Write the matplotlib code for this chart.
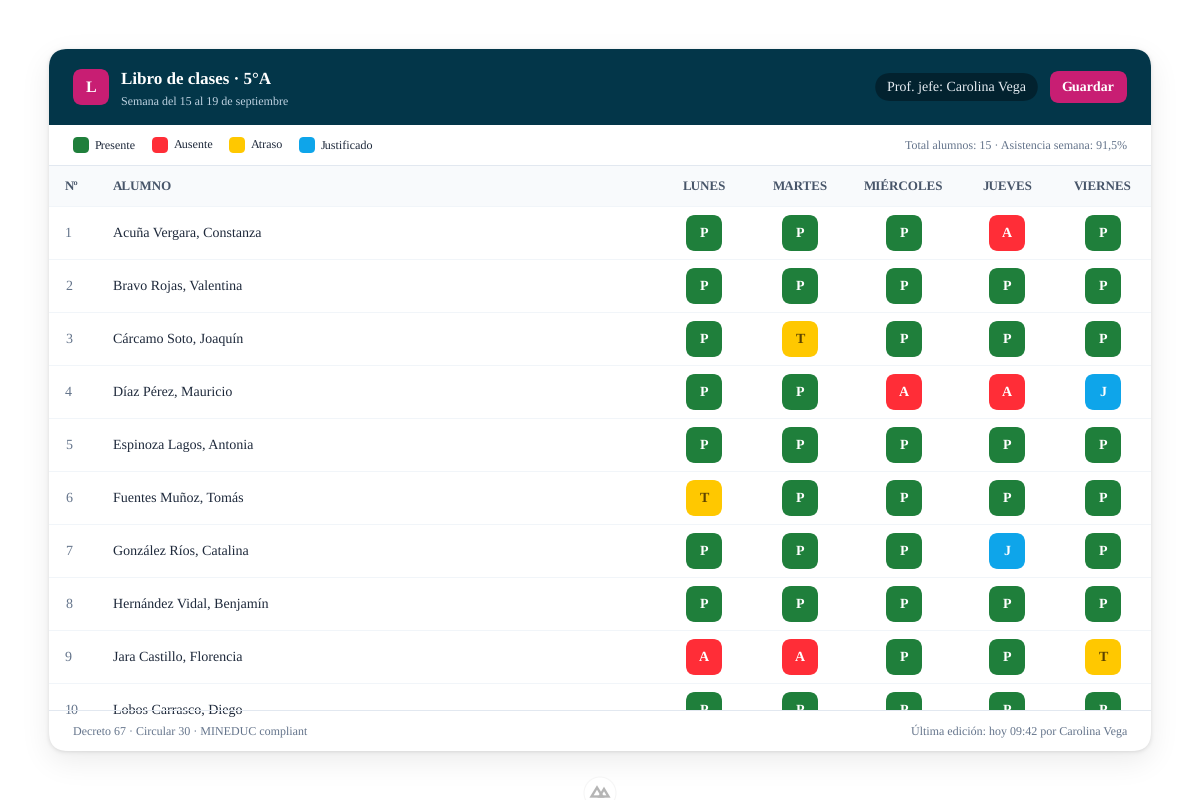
import matplotlib
matplotlib.use("Agg")
import matplotlib.pyplot as plt
import numpy as np
from matplotlib.patches import FancyBboxPatch, Rectangle, Circle, Polygon

plt.rcParams['font.family'] = ['Liberation Serif', 'DejaVu Serif']
plt.rcParams['text.hinting'] = 'no_hinting'

# Data
days = ["LUNES", "MARTES", "MIÉRCOLES", "JUEVES", "VIERNES"]
day_centers = [704, 800, 904, 1007, 1103]
students = [
    "Acuña Vergara, Constanza", "Bravo Rojas, Valentina", "Cárcamo Soto, Joaquín",
    "Díaz Pérez, Mauricio", "Espinoza Lagos, Antonia", "Fuentes Muñoz, Tomás",
    "González Ríos, Catalina", "Hernández Vidal, Benjamín", "Jara Castillo, Florencia",
    "Lobos Carrasco, Diego",
]
attendance = ["PPPAP", "PPPPP", "PTPPP", "PPAAJ", "PPPPP",
              "TPPPP", "PPPJP", "PPPPP", "AAPPT", "PPPPP"]
legend_labels = ["Presente", "Ausente", "Atraso", "Justificado"]
legend_codes = ["P", "A", "T", "J"]
legend_x = [73, 152, 229, 299]
status_colors = {"P": "#1f7f3b", "A": "#ff2d37", "T": "#ffc800", "J": "#0ea5ea"}
status_text = {"P": "white", "A": "white", "T": "#5c4300", "J": "white"}

NAVY = "#033649"
MAGENTA = "#c81e73"
SLATE = "#64748b"
HEAD = "#475569"
LINE = "#e2e8f0"
ROW_LINE = "#f1f5f9"


def px(v):
    # css px to pt at 100 dpi
    return v * 0.72


def rrect(ax, x0, y0, x1, y1, r, **kw):
    # bezier corners look tighter than css arcs, so round a bit more
    p = FancyBboxPatch((x0 + r, y0 + r), x1 - x0 - 2 * r, y1 - y0 - 2 * r,
                       boxstyle=f"round,pad={r},rounding_size={r * 1.17}", linewidth=0, **kw)
    ax.add_patch(p)
    return p


def hline(ax, y, color, zorder=4):
    ax.add_patch(Rectangle((49, y), 1102, 1, fc=color, lw=0, zorder=zorder))


def blurred_card(x0, y0, x1, y1, r, sigma):
    # soft mask of a rounded box on the 1200x800 canvas
    yy, xx = np.mgrid[0:800, 0:1200] + 0.5
    dx = np.maximum(np.maximum(x0 + r - xx, xx - (x1 - r)), 0)
    dy = np.maximum(np.maximum(y0 + r - yy, yy - (y1 - r)), 0)
    mask = (np.hypot(dx, dy) <= r).astype(float)
    k = np.exp(-0.5 * (np.arange(-60, 61) / sigma) ** 2)
    k /= k.sum()
    mask = np.apply_along_axis(lambda m: np.convolve(m, k, mode="same"), 0, mask)
    mask = np.apply_along_axis(lambda m: np.convolve(m, k, mode="same"), 1, mask)
    return mask


fig = plt.figure(figsize=(12, 8), dpi=100, facecolor="white")
ax = fig.add_axes([0, 0, 1, 1])

# Card shadow
wide = blurred_card(49, 59, 1151, 761, 16, 15) * 0.08
tight = blurred_card(49, 50, 1151, 752, 16, 2) * 0.12
shadow = np.zeros((800, 1200, 4))
shadow[..., :3] = 0.06
shadow[..., 3] = 1 - (1 - wide) * (1 - tight)
ax.imshow(shadow, extent=(0, 1200, 800, 0), interpolation="nearest", zorder=1, aspect="auto")

ax.set_xlim(0, 1200)
ax.set_ylim(800, 0)
ax.axis("off")

card = rrect(ax, 49, 49, 1151, 751, 16, fc="white", zorder=2)

# Header bar
hdr = Rectangle((49, 49), 1102, 76, fc=NAVY, lw=0, zorder=3)
ax.add_patch(hdr)
hdr.set_clip_path(card)
rrect(ax, 73, 69, 109, 105, 8, fc=MAGENTA, zorder=4)
ax.text(91, 92, "L", color="white", fontsize=px(16), fontweight="bold", ha="center", va="baseline", zorder=5)
ax.text(121, 84, "Libro de clases · 5°A", color="white", fontsize=px(17), fontweight="bold", ha="left", va="baseline", zorder=5)
ax.text(121, 104, "Semana del 15 al 19 de septiembre", color="#bfd3e2", fontsize=px(12), ha="left", va="baseline", zorder=5)
rrect(ax, 875, 73, 1038, 101, 14, fc="#02222f", zorder=4)
ax.text(887, 91, "Prof. jefe: Carolina Vega", color="#e6edf3", fontsize=px(14), ha="left", va="baseline", zorder=5)
rrect(ax, 1050, 71, 1127, 103, 8, fc=MAGENTA, zorder=4)
ax.text(1088, 91, "Guardar", color="white", fontsize=px(14), fontweight="bold", ha="center", va="baseline", zorder=5)

# Legend row
for x, label, code in zip(legend_x, legend_labels, legend_codes):
    rrect(ax, x, 137, x + 16, 153, 4, fc=status_colors[code], zorder=4)
    ax.text(x + 22, 149.3, label, color="#1e293b", fontsize=px(12.1), ha="left", va="baseline", zorder=5)
ax.text(1127, 149, "Total alumnos: 15 · Asistencia semana: 91,5%", color=SLATE, fontsize=px(12), ha="right", va="baseline", zorder=5)

# Table head
ax.add_patch(Rectangle((49, 165), 1102, 41, fc="#f8fafc", lw=0, zorder=3))
hline(ax, 165, LINE)
hline(ax, 206, ROW_LINE)
ax.text(65, 190, "Nº", color=HEAD, fontsize=px(13), fontweight="bold", ha="left", va="baseline", zorder=5)
ax.text(113, 190, "ALUMNO", color=HEAD, fontsize=px(13), fontweight="bold", ha="left", va="baseline", zorder=5)
for cx, d in zip(day_centers, days):
    ax.text(cx, 190, d, color=HEAD, fontsize=px(13), fontweight="bold", ha="center", va="baseline", zorder=5)

# Table rows, cut off by the footer
body = Rectangle((49, 207), 1102, 503, fc="none", lw=0, zorder=3)
ax.add_patch(body)
for i, (name, codes) in enumerate(zip(students, attendance)):
    yc = 233 + 53 * i
    base = yc + 4
    t1 = ax.text(65, base, str(i + 1), color=SLATE, fontsize=px(14), ha="left", va="baseline", zorder=5)
    t2 = ax.text(113, base, name, color="#1e293b", fontsize=px(14), ha="left", va="baseline", zorder=5)
    t1.set_clip_path(body)
    t2.set_clip_path(body)
    if yc + 26 < 710:
        hline(ax, yc + 26, ROW_LINE)
    for cx, code in zip(day_centers, codes):
        b = rrect(ax, cx - 18, yc - 18, cx + 18, yc + 18, 8, fc=status_colors[code], zorder=4)
        b.set_clip_path(body)
        t = ax.text(cx, base, code, color=status_text[code], fontsize=px(14), fontweight="bold", ha="center", va="baseline", zorder=5)
        t.set_clip_path(body)

# Footer
hline(ax, 710, LINE, zorder=6)
ax.text(73, 734, "Decreto 67 · Circular 30 · MINEDUC compliant", color=SLATE, fontsize=px(12), ha="left", va="baseline", zorder=5)
ax.text(1127, 734, "Última edición: hoy 09:42 por Carolina Vega", color=SLATE, fontsize=px(12), ha="right", va="baseline", zorder=5)

# Badge at the bottom edge
ax.add_patch(Circle((600, 793), 16.5, fc="#f5f5f5", lw=0, zorder=7))
ax.add_patch(Circle((600, 793), 15.5, fc="white", lw=0, zorder=7))
ax.add_patch(Polygon([(591.5, 796.5), (597, 787.5), (602.5, 796.5)], closed=True, fc="none", ec="#b5b5b5", lw=1.7, zorder=8))
ax.add_patch(Polygon([(599.5, 796.5), (604, 789), (608.5, 796.5)], closed=True, fc="none", ec="#b5b5b5", lw=1.7, zorder=8))

fig.savefig("out.png", dpi=100)
